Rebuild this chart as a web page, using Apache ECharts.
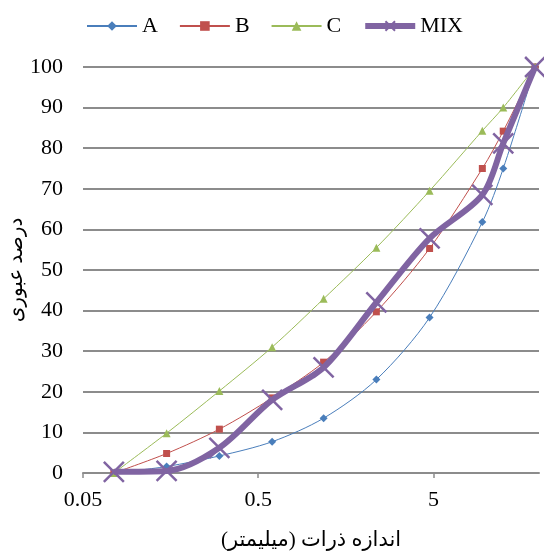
<!DOCTYPE html>
<html>
<head>
<meta charset="utf-8">
<script src="https://cdn.jsdelivr.net/npm/echarts@6/dist/echarts.min.js"></script>
<style>
  html, body { margin: 0; padding: 0; background: #fff; }
  #chart { width: 544px; height: 552px; }
</style>
</head>
<body>
<div id="chart"></div>
<script>
const FONT = 'Liberation Serif, DejaVu Serif, DejaVu Sans, serif'

// sieve sizes (mm)
const sizes = [0.075, 0.15, 0.3, 0.6, 1.18, 2.36, 4.75, 9.5, 12.5, 19]
const passA = [0, 1.6, 4.2, 7.7, 13.5, 23, 38.3, 61.8, 75, 100]
const passB = [0, 4.8, 10.8, 18.5, 27.3, 39.7, 55.3, 75, 84.2, 100]
const passC = [0, 9.8, 20.2, 31, 42.9, 55.5, 69.5, 84.3, 90, 100]
const passMix = [0.3, 0.5, 6.2, 18, 26, 42, 57.8, 68.5, 81.2, 100]
const xTicks = [0.05, 0.5, 5]

const pairs = (ys) => sizes.map((s, i) => [s, ys[i]])

const chart = echarts.init(document.getElementById('chart'))

const CROSS = 'path://M0,0L10,10M10,0L0,10'

chart.setOption({
  animation: false,
  backgroundColor: '#fff',
  legend: {
    top: 10,
    left: 81,
    itemWidth: 50,
    itemHeight: 12,
    itemGap: 21,
    textStyle: { fontFamily: FONT, fontSize: 22, color: '#000' },
    data: ['A', 'B', 'C', { name: 'MIX', lineStyle: { width: 6 } }],
  },
  grid: { left: 83, right: 5, top: 67, bottom: 79, outerBoundsMode: 'none', containLabel: false },
  xAxis: {
    type: 'log',
    min: 0.05,
    max: 20,
    name: 'اندازه ذرات (میلیمتر)',
    nameLocation: 'middle',
    nameGap: 57,
    nameMoveOverlap: false,
    nameTextStyle: { fontFamily: FONT, fontSize: 21, color: '#000' },
    axisLine: { show: true, lineStyle: { color: '#8c8c8c', width: 2 } },
    axisTick: { show: true, length: 5, customValues: xTicks, lineStyle: { color: '#8c8c8c', width: 1.5 } },
    axisLabel: {
      customValues: xTicks,
      margin: 16,
      fontFamily: FONT, fontSize: 22, color: '#000',
      formatter: (v) => String(v),
    },
    splitLine: { show: false },
    minorTick: { show: false },
  },
  yAxis: {
    type: 'value',
    min: 0,
    max: 100,
    interval: 10,
    name: 'درصد عبوری',
    nameLocation: 'middle',
    nameGap: 56,
    nameMoveOverlap: false,
    nameRotate: 90,
    nameTextStyle: { fontFamily: FONT, fontSize: 20, color: '#000' },
    axisLine: { show: false },
    axisTick: { show: false },
    axisLabel: { margin: 20, fontFamily: FONT, fontSize: 22, color: '#000' },
    splitLine: { show: true, lineStyle: { color: '#8c8c8c', width: 2 } },
  },
  series: [
    {
      name: 'A', type: 'line', smooth: 0.3,
      data: pairs(passA),
      symbol: 'diamond', symbolSize: 8,
      lineStyle: { color: '#4a7ebb', width: 1 },
      itemStyle: { color: '#4a7ebb' },
    },
    {
      name: 'B', type: 'line', smooth: 0.3,
      data: pairs(passB),
      symbol: 'rect', symbolSize: 7,
      lineStyle: { color: '#c0504d', width: 1 },
      itemStyle: { color: '#c0504d' },
    },
    {
      name: 'C', type: 'line', smooth: 0.3,
      data: pairs(passC),
      symbol: 'triangle', symbolSize: 8,
      lineStyle: { color: '#9bbb59', width: 1 },
      itemStyle: { color: '#9bbb59' },
    },
    {
      name: 'MIX', type: 'line', smooth: 0.3,
      data: pairs(passMix),
      symbol: CROSS, symbolSize: 20,
      lineStyle: { color: '#8064a2', width: 6 },
      itemStyle: { color: 'none', borderColor: '#8064a2', borderWidth: 2.5 },
      z: 5,
    },
  ],
})
</script>
</body>
</html>
